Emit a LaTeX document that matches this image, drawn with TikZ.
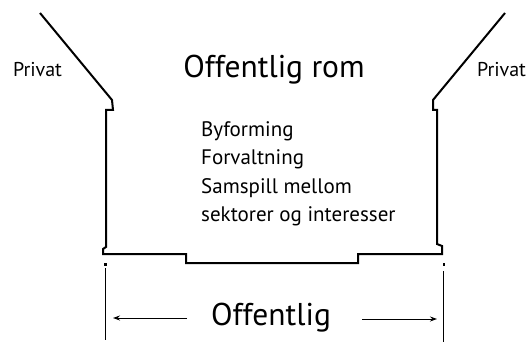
\documentclass[tikz,border=0pt]{standalone}
\usepackage{fontspec}
\setmainfont{PT Sans}
\usetikzlibrary{arrows.meta}
\begin{document}
\begin{tikzpicture}[x=1pt,y=-1pt,
  wall/.style={line width=2pt,line join=miter},
  dim/.style={line width=0.9pt},
  arr/.style={line width=0.9pt,-{Stealth[length=7pt,width=5pt]}},
  big/.style={font=\fontsize{31.5}{36}\selectfont,inner sep=0pt},
  small/.style={font=\fontsize{20}{24}\selectfont,inner sep=0pt,anchor=base},
  list/.style={font=\fontsize{21}{28.5}\selectfont,inner sep=0pt,align=left}]
\useasboundingbox[fill=white] (0,0) rectangle (527,342);
% outline
\coordinate (lt) at (40,13);
\coordinate (rt) at (505,13);
\draw[wall] (lt) -- (112,100) -- (113,110) -- (106,110) -- (106,247) -- (103,249) -- (103,254)
  -- (186,254) -- (186,263) -- (358,263) -- (358,254) -- (442,254) -- (442,246) -- (437,244)
  -- (437,110) -- (433,110) -- (433,100) -- (rt);
% dots
\fill (104,262.5) rectangle (106.5,265.5);
\fill (442.5,262.5) rectangle (445,265.5);
% dimension lines
\coordinate (dl1) at (105,268);
\coordinate (dl2) at (105,340);
\coordinate (dr1) at (443,271);
\coordinate (dr2) at (443,342);
\draw[dim] (dl1) -- (dl2);
\draw[dim] (dr1) -- (dr2);
% texts
\node[big] (off) at (271,318) {Offentlig};
\node[big] (rom) at (274,70) {Offentlig rom};
\node[small] (pl) at (37.5,77) {Privat};
\node[small] (pr) at (501.5,77) {Privat};
\node[list,anchor=north west] (lst) at (201,121) {Byforming\\Forvaltning\\Samspill mellom\\sektorer og interesser};
% arrows
\coordinate (al) at (113,318);
\coordinate (ar) at (437,319);
\draw[arr] (187,318) -- (al);
\draw[arr] (362,319) -- (ar);
\end{tikzpicture}
\end{document}
